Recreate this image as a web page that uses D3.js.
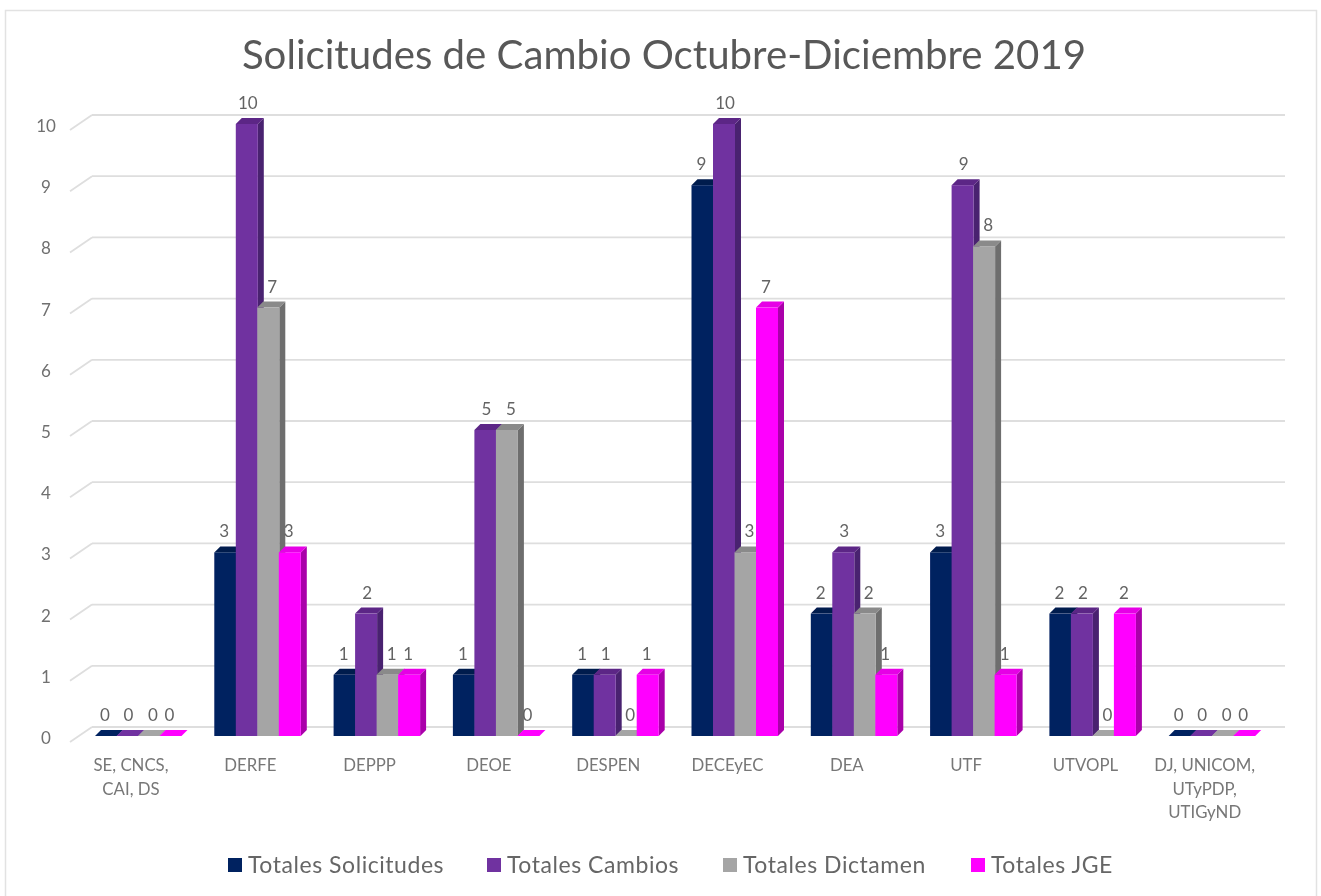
<!DOCTYPE html>
<html><head><meta charset="utf-8">
<script src="https://cdn.jsdelivr.net/npm/d3@7"></script>
<style>html,body{margin:0;padding:0;background:#fff;overflow:hidden}svg{display:block}text{font-family:Lato,"Open Sans",sans-serif}</style>
</head><body>
<svg id="c" width="1321" height="896"></svg>
<script>
const titleText = "Solicitudes de Cambio Octubre-Diciembre 2019";
const categories = [["SE, CNCS,","CAI, DS"],["DERFE"],["DEPPP"],["DEOE"],["DESPEN"],["DECEyEC"],["DEA"],["UTF"],["UTVOPL"],["DJ, UNICOM,","UTyPDP,","UTIGyND"]];
const seriesNames = ["Totales Solicitudes","Totales Cambios","Totales Dictamen","Totales JGE"];
const solicitudes = [0,3,1,1,1,9,2,3,2,0];
const cambios     = [0,10,2,5,1,10,3,9,2,0];
const dictamen    = [0,7,1,5,0,3,2,8,0,0];
const jge         = [0,3,1,0,1,7,1,1,2,0];
const yTicks = [0,1,2,3,4,5,6,7,8,9,10];
const frontColors = ["#002060","#7030A0","#A5A5A5","#FF00FF"];
const sideColors  = ["#00143c","#4a2070","#6e6e6e","#aa00aa"];
const topColors   = ["#001a4e","#5c2786","#8a8a8a","#e600e6"];
const labelOffsets = [10,12,15,10];
const legendX = [228,487,723,971];

const values = [solicitudes,cambios,dictamen,jge];
const svg = d3.select("#c");
const y = d3.scaleLinear().domain([0,10]).range([736,124]);
const x0 = d3.scaleBand().domain(d3.range(categories.length)).range([78.35,1271.35]);
const x1 = d3.scaleBand().domain(d3.range(4)).range([16.65,102.65]);
const dx = 6, dy = 6, bw = x1.bandwidth()+0.5;
const gridBack = v => y(v)-9;

const defs = svg.append("defs");
defs.append("filter").attr("id","soft").attr("x",0).attr("y",0)
  .attr("filterUnits","userSpaceOnUse").attr("width",1321).attr("height",896)
  .append("feGaussianBlur").attr("stdDeviation",0.7);
svg.append("rect").attr("x",5.5).attr("y",10.5).attr("width",1311).attr("height",900)
  .attr("fill","#fff").attr("stroke","#e2e2e2").attr("stroke-width",1.5);
const root = svg.append("g").attr("filter","url(#soft)");

root.append("text").attr("x",664).attr("y",69).attr("text-anchor","middle")
  .attr("font-size",40.2).attr("fill","#595959").text(titleText);

const grid = root.append("g");
grid.selectAll("line.h").data(yTicks).join("line").attr("class","h")
  .attr("x1",92).attr("x2",1285).attr("y1",gridBack).attr("y2",gridBack)
  .attr("stroke","#dedede").attr("stroke-width",1.8);
grid.selectAll("line.d").data(yTicks).join("line").attr("class","d")
  .attr("x1",92).attr("x2",70).attr("y1",gridBack).attr("y2",v=>gridBack(v)+15)
  .attr("stroke","#dedede").attr("stroke-width",1.8);

root.selectAll("text.yt").data(yTicks).join("text").attr("class","yt")
  .attr("x",46).attr("y",v=>y(v)+8).attr("text-anchor","middle")
  .attr("font-size",17).attr("fill","#6f6f6f").text(d=>d);

const groups = root.selectAll("g.cat").data(categories).join("g").attr("class","cat")
  .attr("transform",(d,i)=>`translate(${x0(i)},0)`);
groups.each(function(_,ci){
  const g = d3.select(this);
  values.forEach((vals,si)=>{
    const v = vals[ci], xl = x1(si), xr = xl+bw, yt = y(v), yb = y(0);
    g.append("path").attr("fill",sideColors[si])
      .attr("d",`M${xr},${yt}L${xr+dx},${yt-dy}L${xr+dx},${yb-dy}L${xr},${yb}Z`);
    g.append("path").attr("fill",v===0?frontColors[si]:topColors[si])
      .attr("d",`M${xl},${yt}L${xl+dx},${yt-dy}L${xr+dx},${yt-dy}L${xr},${yt}Z`);
    g.append("rect").attr("x",xl).attr("y",yt).attr("width",bw).attr("height",yb-yt).attr("fill",frontColors[si]);
  });
  values.forEach((vals,si)=>{
    g.append("text").attr("x",x1(si)+labelOffsets[si]).attr("y",y(vals[ci])-15)
      .attr("text-anchor","middle").attr("font-size",17).attr("fill","#646464").text(vals[ci]);
  });
  g.selectAll("text.xl").data(categories[ci]).join("text").attr("class","xl")
    .attr("x",x1(0)+36).attr("y",(d,i)=>771+i*23.5).attr("text-anchor","middle")
    .attr("font-size",16.8).attr("fill","#777").text(d=>d);
});

const legend = root.selectAll("g.lg").data(seriesNames).join("g").attr("class","lg")
  .attr("transform",(d,i)=>`translate(${legendX[i]},0)`);
legend.append("rect").attr("y",858).attr("width",14).attr("height",14).attr("fill",(d,i)=>frontColors[i]);
legend.append("text").attr("x",20).attr("y",873).attr("font-size",23).attr("letter-spacing",0.55)
  .attr("fill","#666").text(d=>d);
</script>
</body></html>
